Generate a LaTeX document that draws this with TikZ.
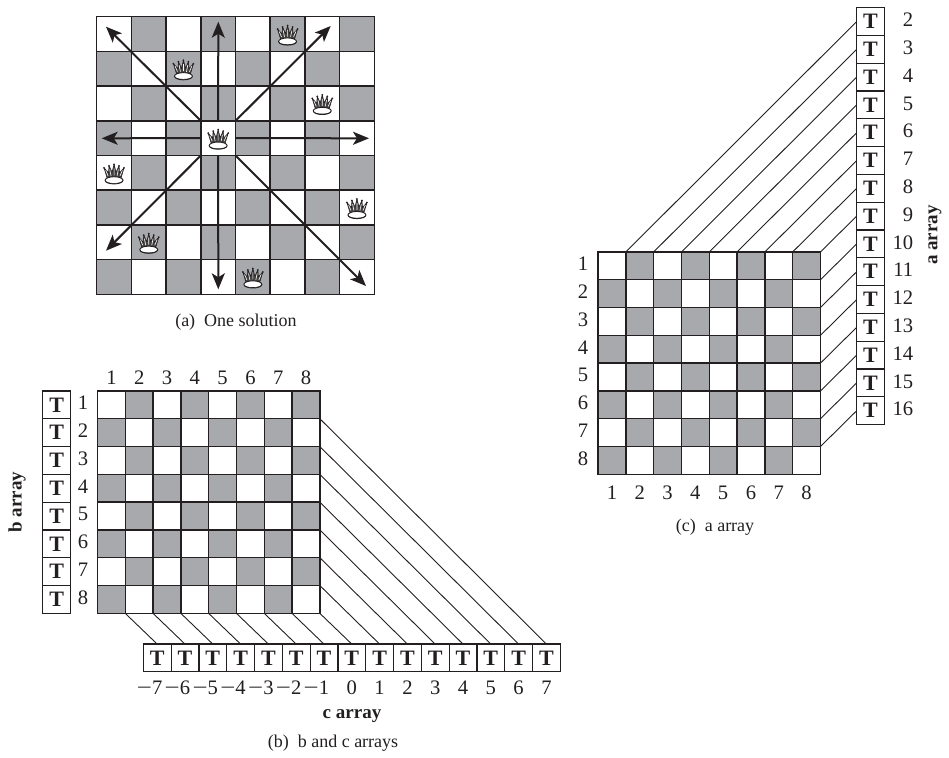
\documentclass[tikz,border=0pt]{standalone}
\usepackage{fontspec}
\setmainfont{Liberation Serif}
\usepackage{xcolor}
\usetikzlibrary{calc,arrows.meta}
\definecolor{inkx}{HTML}{231F20}
\definecolor{sqgray}{HTML}{A7A9AC}
\newcommand{\negd}{\llap{\scalebox{1.3}[1]{−}}}
\tikzset{
  x=0.5pt,y=-0.5pt,
  ar/.style={-{Stealth[length=8pt,width=6.5pt,inset=2pt]},line width=1pt,inkx},
  wire/.style={line width=0.45pt,inkx},
  tbox/.style={draw=inkx,line width=0.6pt,fill=white,minimum size=13.9pt,inner sep=0pt,outer sep=0pt,font=\fontsize{11}{11}\selectfont\bfseries,text=inkx},
  cellw/.style={draw=inkx,fill=white,inner sep=0pt,outer sep=0pt},
  cellg/.style={cellw,fill=sqgray},
  num/.style={font=\fontsize{10.3}{11}\selectfont,text=inkx,inner sep=0pt},
  captext/.style={font=\fontsize{9}{10}\selectfont,text=inkx,inner sep=0pt},
  arrname/.style={font=\fontsize{9.5}{10}\selectfont\bfseries,text=inkx,inner sep=0pt},
  queen/.pic={
    \draw[inkx,fill=inkx!85,line width=0.3pt,line join=round] (-7,5)--(-10,-5)--(-5.5,0)--(-5,-7)--(-2,-0.5)--(0,-8.5)--(2,-0.5)--(5,-7)--(5.5,0)--(10,-5)--(7,5)--cycle;
    \draw[white,line width=0.3pt] (-6,3)--(-8.3,-2.5) (-3,3)--(-4.3,-3.5) (0,2.5)--(0,-4.5) (3,3)--(4.3,-3.5) (6,3)--(8.3,-2.5);
    \foreach \tipx/\tipy in {-10/-5,-5/-7,0/-8.5,5/-7,10/-5}{\fill[inkx] (\tipx,\tipy) circle (1);}
    \draw[inkx,fill=white,line width=0.45pt] (0,7.5) ellipse (9 and 3.6);
    \draw[inkx,line width=0.3pt] (-8.5,8) arc[start angle=180,end angle=360,x radius=8.5,y radius=-2.6];
  }
}
\begin{document}
\begin{tikzpicture}
\useasboundingbox (0,0) rectangle (949,758);
% the three boards
\foreach \bn/\bx/\by/\bs/\bw in {sol/96.7/16.7/34.7/0.75,bc/97.5/391/27.8/0.7,ac/598/252/27.8/0.7}{
  \foreach \rw in {1,...,8}{
    \foreach \cl in {1,...,8}{
      \pgfmathtruncatemacro{\odd}{mod(\rw+\cl,2)}
      \ifnum\odd=0 \def\cellsty{cellw}\else \def\cellsty{cellg}\fi
      \node[\cellsty,line width=\bw pt,minimum size=\bs*0.5pt] (\bn-\rw-\cl) at (\bx+\cl*\bs-\bs/2,\by+\rw*\bs-\bs/2) {};
    }
  }
}
% queens
\foreach \rw/\cl in {1/6,2/3,3/7,4/4,5/1,6/8,7/2,8/5}{
  \path (sol-\rw-\cl.center) pic {queen};
}
% attack lines
\coordinate (tipnw) at (106,26.7); \coordinate (tipne) at (330.7,26);
\coordinate (tipn) at (218.3,21.7); \coordinate (tipw) at (101.7,138.3);
\coordinate (tipe) at (369,138.3); \coordinate (tips) at (218.3,289.3);
\coordinate (tipsw) at (106,250.7); \coordinate (tipse) at (366,286);
\draw[ar] (sol-4-4.north west)--(tipnw);
\draw[ar] (sol-4-4.north east)--(tipne);
\draw[ar] (sol-4-4.north)--(tipn);
\draw[ar] (sol-4-4.west)--(tipw);
\draw[ar] (sol-4-4.east)--(tipe);
\draw[ar] (sol-4-4.south)--(tips);
\draw[ar] (sol-4-4.south west)--(tipsw);
\draw[ar] (sol-4-4.south east)--(tipse);
\node[captext] (capa) at (236,322) {(a)\enspace One solution};
% b array
\foreach \i in {1,...,8}{
  \node[tbox] (bt\i) at (56.7,405+27.8*\i-27.8) {T};
  \node[num] (brow\i) at (83,403+27.8*\i-27.8) {\i};
  \node[num] (bcol\i) at (97.5+27.8*\i-13.9,378) {\i};
}
\node[arrname,rotate=90] (bname) at (17,502) {b array};
% c array
\foreach \i/\lab in {1/\negd 7,2/\negd 6,3/\negd 5,4/\negd 4,5/\negd 3,6/\negd 2,7/\negd 1,8/0,9/1,10/2,11/3,12/4,13/5,14/6,15/7}{
  \node[tbox] (ct\i) at (157.2+27.8*\i-27.8,658) {T};
  \node[num] (clab\i) at (157.2+27.8*\i-27.8,688) {\lab};
}
\foreach \i in {1,...,8}{
  \draw[wire] (bc-8-\i.south east)--(ct\i.north);
}
\foreach \i [evaluate=\i as \j using int(8+\i), evaluate=\i as \rw using int(8-\i)] in {1,...,7}{
  \draw[wire] (bc-\rw-8.south east)--(ct\j.north);
}
\node[arrname] (cname) at (352,716) {c array};
\node[captext] (capb) at (333,743) {(b)\enspace b and c arrays};
% a array
\foreach \i [evaluate=\i as \n using int(\i+1)] in {1,...,15}{
  \node[tbox] (at\i) at (870.5,21.6+27.8*\i-27.8) {T};
  \node[num,anchor=east] (alab\i) at (913.5,20+27.8*\i-27.8) {\n};
}
\foreach \i in {1,...,8}{
  \draw[wire] (ac-1-\i.north east)--(at\i.west);
}
\foreach \i [evaluate=\i as \j using int(8+\i)] in {1,...,7}{
  \draw[wire] (ac-\i-8.south east)--(at\j.west);
}
\foreach \i in {1,...,8}{
  \node[num] (arow\i) at (583,250+27.8*\i-13.9) {\i};
  \node[num] (acol\i) at (598+27.8*\i-13.9,493) {\i};
}
\node[arrname,rotate=90] (aname) at (935,235) {a array};
\node[captext] (capc) at (715,527) {(c)\enspace a array};
\end{tikzpicture}
\end{document}
